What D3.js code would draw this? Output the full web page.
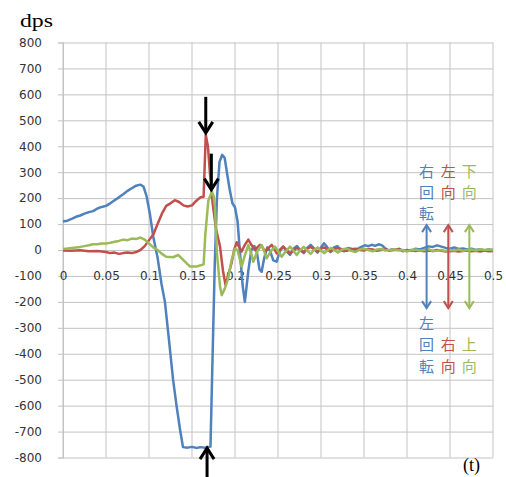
<!DOCTYPE html>
<html>
<head>
<meta charset="utf-8">
<script src="https://cdn.jsdelivr.net/npm/d3@7"></script>
<style>
    body { margin: 0; background: #fff; }
    svg { display: block; }
</style>
</head>
<body>
<div id="chart"></div>
<script>
// time ticks (s) and dps ticks
var xTicks = [0, 0.05, 0.1, 0.15, 0.2, 0.25, 0.3, 0.35, 0.4, 0.45, 0.5]
var yTicks = [-800, -700, -600, -500, -400, -300, -200, -100, 0, 100, 200, 300, 400, 500, 600, 700, 800]

// blue : 右回転(+) / 左回転(-)
var rotation = [[0,110],[0.005,113],[0.01,120],[0.015,128],[0.02,133],[0.025,140],[0.03,146],[0.035,150],
    [0.04,160],[0.045,166],[0.05,170],[0.055,180],[0.06,192],[0.065,203],[0.07,215],[0.075,228],[0.08,238],
    [0.085,248],[0.09,252],[0.0935,245],[0.097,210],[0.101,140],[0.105,50],[0.11,-30],[0.1145,-130],
    [0.1185,-200],[0.123,-340],[0.128,-500],[0.132,-600],[0.136,-690],[0.1395,-760],[0.145,-762],[0.15,-759],
    [0.155,-763],[0.16,-760],[0.165,-762],[0.1715,-758],[0.174,-400],[0.1765,-50],[0.179,200],[0.182,340],
    [0.185,367],[0.188,355],[0.191,290],[0.194,230],[0.197,180],[0.2,165],[0.203,110],[0.206,-20],[0.209,-140],
    [0.2115,-200],[0.2155,-80],[0.219,0],[0.2225,15],[0.2255,-10],[0.2285,-75],[0.231,-84],[0.234,-30],
    [0.2375,10],[0.241,-5],[0.2445,-40],[0.2485,-45],[0.252,-5],[0.256,13],[0.26,-5],[0.264,-19],[0.268,5],
    [0.272,15],[0.276,0],[0.28,-12],[0.284,8],[0.288,20],[0.292,5],[0.296,-10],[0.3,10],[0.3035,26],[0.307,12],
    [0.311,-8],[0.315,10],[0.319,15],[0.323,0],[0.327,-5],[0.331,8],[0.335,5],[0.339,-2],[0.343,5],[0.347,12],
    [0.351,18],[0.355,15],[0.359,20],[0.363,16],[0.367,22],[0.371,18],[0.375,5],[0.379,-2],[0.383,3],[0.387,0],
    [0.391,5],[0.395,-5],[0.4,0],[0.405,-3],[0.41,5],[0.415,2],[0.42,8],[0.425,14],[0.43,12],[0.435,18],
    [0.44,13],[0.445,8],[0.45,5],[0.455,10],[0.46,4],[0.465,6],[0.47,2],[0.475,5],[0.48,0],[0.485,3],
    [0.49,-2],[0.495,2],[0.5,0]]

// red : 左向(+) / 右向(-)
var sideways = [[0,-2],[0.01,-3],[0.02,-1],[0.03,-5],[0.04,-4],[0.05,-8],[0.055,-12],[0.06,-10],[0.065,-15],
    [0.07,-12],[0.075,-10],[0.08,-12],[0.085,-8],[0.09,0],[0.095,15],[0.1,38],[0.105,60],[0.11,100],
    [0.115,140],[0.12,170],[0.125,180],[0.13,192],[0.135,185],[0.14,172],[0.145,168],[0.15,172],[0.155,190],
    [0.16,203],[0.1635,205],[0.1648,330],[0.166,444],[0.1685,400],[0.171,290],[0.174,180],[0.178,80],
    [0.1826,13],[0.186,-80],[0.189,-135],[0.192,-100],[0.196,-50],[0.199,0],[0.202,30],[0.205,10],
    [0.2077,-6],[0.2115,20],[0.2155,40],[0.219,20],[0.2233,0],[0.226,10],[0.229,20],[0.232,10],[0.235,-6],
    [0.239,8],[0.2427,20],[0.2455,5],[0.2485,-13],[0.252,0],[0.256,13],[0.26,0],[0.264,-13],[0.268,-3],
    [0.2717,8],[0.276,0],[0.28,-8],[0.284,5],[0.288,12],[0.292,3],[0.296,-6],[0.3,5],[0.304,10],[0.308,0],
    [0.312,-5],[0.316,5],[0.32,8],[0.325,2],[0.33,-3],[0.335,3],[0.34,5],[0.345,0],[0.35,-2],[0.355,4],
    [0.36,2],[0.365,-3],[0.37,0],[0.375,2],[0.38,-2],[0.385,0],[0.39,3],[0.395,-2],[0.4,-3],[0.405,0],
    [0.41,-4],[0.415,-2],[0.42,-5],[0.425,-2],[0.43,-4],[0.435,0],[0.44,-3],[0.445,-6],[0.45,-5],[0.455,-3],
    [0.46,-6],[0.465,-4],[0.47,-2],[0.475,-5],[0.48,-3],[0.485,-6],[0.49,-2],[0.495,-5],[0.5,-4]]

// green : 下向(+) / 上向(-)
var vertical = [[0,5],[0.005,6],[0.01,8],[0.015,10],[0.02,12],[0.025,15],[0.03,18],[0.035,22],[0.04,22],
    [0.045,25],[0.05,25],[0.055,28],[0.06,32],[0.065,35],[0.07,40],[0.075,38],[0.08,44],[0.085,42],[0.09,48],
    [0.095,40],[0.1,25],[0.105,10],[0.11,0],[0.115,-15],[0.12,-26],[0.128,-28],[0.134,-19],[0.14,-39],
    [0.1477,-64],[0.155,-64],[0.161,-58],[0.1635,-55],[0.1655,60],[0.169,190],[0.173,225],[0.175,210],
    [0.1767,167],[0.179,-13],[0.1826,-141],[0.1845,-174],[0.188,-150],[0.192,-110],[0.196,-40],[0.2,5],
    [0.203,0],[0.2077,-64],[0.2115,-20],[0.2155,19],[0.2185,-10],[0.2213,-45],[0.226,-5],[0.231,19],
    [0.234,-5],[0.2368,-32],[0.2415,-5],[0.2465,13],[0.25,-5],[0.2543,-26],[0.259,-5],[0.264,13],[0.268,-3],
    [0.2717,-19],[0.276,0],[0.28,12],[0.284,-2],[0.288,-15],[0.292,0],[0.296,10],[0.3,-3],[0.304,-12],
    [0.308,0],[0.312,8],[0.316,-2],[0.32,-10],[0.325,3],[0.33,6],[0.335,-3],[0.34,-8],[0.345,2],[0.35,5],
    [0.355,0],[0.36,-5],[0.365,2],[0.37,4],[0.375,-2],[0.38,0],[0.385,3],[0.39,-2],[0.395,0],[0.4,-6],
    [0.405,0],[0.41,2],[0.415,-3],[0.42,0],[0.425,3],[0.43,-4],[0.435,-3],[0.44,0],[0.445,-5],[0.45,0],
    [0.455,-2],[0.46,2],[0.465,-3],[0.47,0],[0.475,2],[0.48,-2],[0.485,3],[0.49,0],[0.495,2],[0.5,0]]

// black pointer arrows (where they point, in data units)
var pointers = [
    { t: 0.166, v: 444, dir: 'down' },
    { t: 0.1725, v: 225, dir: 'down' },
    { t: 0.1675, v: -760, dir: 'up' }
]

// legend: double arrows with the two meanings
var legend = [
    { t: 0.4228, color: '#4F81BD', top: ['右', '回', '転'], bottom: ['左', '回', '転'] },
    { t: 0.448, color: '#C0504D', top: ['左', '向'], bottom: ['右', '向'] },
    { t: 0.4725, color: '#9BBB59', top: ['下', '向'], bottom: ['上', '向'] }
]

var width = 506
var height = 477
var margin = { top: 42.5, bottom: 19.5, left: 63, right: 13 }
var gridColor = '#c3c3c3'
var textColor = '#333'

var svg = d3.select('#chart').append('svg')
    .attr('width', width)
    .attr('height', height)

var x = d3.scaleLinear().domain([0, 0.5]).range([margin.left, width - margin.right])
var y = d3.scaleLinear().domain([-800, 800]).range([height - margin.bottom, margin.top])

// vertical grid
svg.append('g')
    .selectAll('line')
    .data(xTicks)
    .join('line')
    .attr('x1', d => x(d)).attr('x2', d => x(d))
    .attr('y1', y(800)).attr('y2', y(-800))
    .attr('stroke', gridColor)

// y axis with horizontal grid
svg.append('g')
    .attr('transform', 'translate(' + margin.left + ',0)')
    .call(d3.axisLeft(y).tickValues(yTicks).tickSize(-(x(0.5) - x(0))).tickPadding(21).tickFormat(d => String(d)))
    .call(g => g.select('.domain').remove())
    .call(g => g.selectAll('line').attr('stroke', gridColor))
    .call(g => g.selectAll('text')
        .attr('fill', textColor)
        .attr('font-family', 'DejaVu Sans, sans-serif')
        .attr('font-size', '12px'))

// small outside ticks
svg.append('g')
    .attr('transform', 'translate(' + margin.left + ',0)')
    .call(d3.axisLeft(y).tickValues(yTicks).tickSize(5).tickFormat(''))
    .call(g => g.select('.domain').attr('stroke', gridColor))
    .call(g => g.selectAll('line').attr('stroke', gridColor))

// x labels sit under the zero line
svg.append('g')
    .attr('transform', 'translate(0,' + y(0) + ')')
    .call(d3.axisBottom(x).tickValues(xTicks).tickSize(0).tickFormat(d => String(d)))
    .call(g => g.select('.domain').remove())
    .call(g => g.selectAll('text')
        .attr('y', 29.5)
        .attr('dy', 0)
        .attr('fill', textColor)
        .attr('font-family', 'DejaVu Sans, sans-serif')
        .attr('font-size', '12px'))

var line = d3.line()
    .x(d => x(d[0]))
    .y(d => y(d[1]))

var series = [
    { data: rotation, color: '#4F81BD' },
    { data: sideways, color: '#C0504D' },
    { data: vertical, color: '#9BBB59' }
]

svg.append('g')
    .selectAll('path')
    .data(series)
    .join('path')
    .attr('d', d => line(d.data))
    .attr('fill', 'none')
    .attr('stroke', d => d.color)
    .attr('stroke-width', 2.5)
    .attr('stroke-linejoin', 'round')

// black arrows
var arrowG = svg.append('g')
    .attr('stroke', '#000')
    .attr('stroke-width', 3)
    .attr('fill', 'none')

pointers.forEach(p => {
    var px = x(p.t)
    var tip = p.dir == 'down' ? y(p.v) - 2 : y(p.v) + 1
    var back = p.dir == 'down' ? -11 : 11
    arrowG.append('line')
        .attr('x1', px).attr('x2', px)
        .attr('y1', tip).attr('y2', p.dir == 'down' ? tip - 36 : height)
    arrowG.append('polyline')
        .attr('points', [[px - 7, tip + back], [px, tip], [px + 7, tip + back]].join(' '))
        .attr('stroke-linejoin', 'miter')
})

// legend arrows and vertical labels
var legendG = svg.append('g')
var arrowTop = y(96)
var arrowBottom = y(-224)

legend.forEach(l => {
    var lx = x(l.t)
    legendG.append('line')
        .attr('x1', lx).attr('x2', lx)
        .attr('y1', arrowTop).attr('y2', arrowBottom)
        .attr('stroke', l.color)
        .attr('stroke-width', 2)
    legendG.append('polyline')
        .attr('points', [[lx - 4.5, arrowTop + 7], [lx, arrowTop], [lx + 4.5, arrowTop + 7]].join(' '))
        .attr('fill', 'none').attr('stroke', l.color).attr('stroke-width', 2)
    legendG.append('polyline')
        .attr('points', [[lx - 4.5, arrowBottom - 7], [lx, arrowBottom], [lx + 4.5, arrowBottom - 7]].join(' '))
        .attr('fill', 'none').attr('stroke', l.color).attr('stroke-width', 2)

    l.top.forEach((c, i) => {
        legendG.append('text')
            .attr('x', lx)
            .attr('y', 171.5 + i * 21)
            .attr('dy', '0.36em')
            .attr('text-anchor', 'middle')
            .attr('fill', l.color)
            .attr('font-family', 'Noto Sans CJK JP')
            .attr('font-size', '15px')
            .text(c)
    })
    var n = l.bottom.length
    l.bottom.forEach((c, i) => {
        legendG.append('text')
            .attr('x', lx)
            .attr('y', 366.5 - (n - 1 - i) * 21.7)
            .attr('dy', '0.36em')
            .attr('text-anchor', 'middle')
            .attr('fill', l.color)
            .attr('font-family', 'Noto Sans CJK JP')
            .attr('font-size', '15px')
            .text(c)
    })
})

// unit labels
svg.append('text')
    .attr('x', 20)
    .attr('y', 26.5)
    .attr('font-family', 'Liberation Serif, serif')
    .attr('font-size', '19px')
    .attr('textLength', 33)
    .attr('lengthAdjust', 'spacingAndGlyphs')
    .text('dps')

svg.append('text')
    .attr('x', 463)
    .attr('y', 471)
    .attr('font-family', 'Liberation Serif, serif')
    .attr('font-size', '18px')
    .text('(t)')
</script>
</body>
</html>
